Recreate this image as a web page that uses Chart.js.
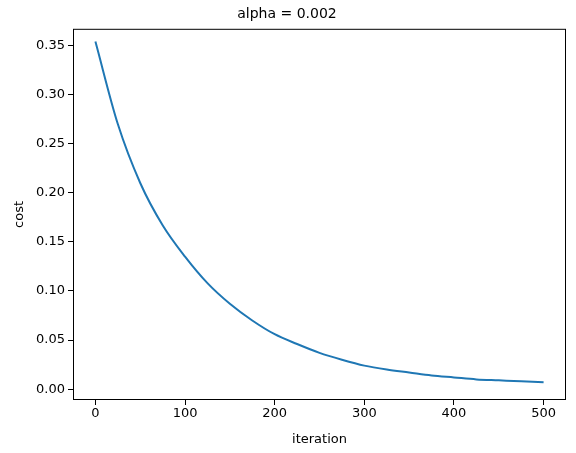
<!DOCTYPE html>
<html><head><meta charset="utf-8">
<script src="https://cdn.jsdelivr.net/npm/chart.js@4"></script>
<style>html,body{margin:0;background:#fff}#wrap{width:576px;height:453px}</style>
</head><body><div id="wrap"><canvas id="c"></canvas></div>
<script>
// cost every 25 iterations
const iterations = [0,25,50,75,100,125,150,175,200,225,250,275,300,325,350,375,400,425,450,475,500];
const cost = [0.354,0.270,0.210,0.167,0.135,0.108,0.087,0.070,0.056,0.046,0.037,0.030,0.024,0.020,0.017,0.014,0.012,0.010,0.009,0.008,0.007];
const xTicks = [0,100,200,300,400,500];
const yTicks = [0,0.05,0.10,0.15,0.20,0.25,0.30,0.35];

const FONT = "'DejaVu Sans',sans-serif";
Chart.defaults.font.family = FONT;
Chart.defaults.color = "#000";

const frame = {
    id:"frame",
    afterDraw(c){
        const a=c.chartArea, x=c.ctx;
        x.save(); x.strokeStyle="#000"; x.lineWidth=1;
        x.strokeRect(a.left+.5,a.top+.5,a.right-a.left-1,a.bottom-a.top-1);
        x.restore();
    }
};

new Chart(document.getElementById("c"),{
    type:"line",
    data:{datasets:[{data:iterations.map((v,i)=>({x:v,y:cost[i]})),
        borderColor:"#1f77b4",borderWidth:2,pointRadius:0,cubicInterpolationMode:"monotone",fill:false}]},
    options:{responsive:true,maintainAspectRatio:false,animation:false,
        layout:{padding:{left:8,right:10,top:0,bottom:0}},
        plugins:{legend:{display:false},tooltip:{enabled:false},
            title:{display:true,text:"alpha = 0.002",font:{size:14,weight:"normal"},color:"#000",padding:{top:6,bottom:6}}},
        scales:{
            x:{type:"linear",min:-25,max:525,
                afterBuildTicks:a=>{a.ticks=xTicks.map(v=>({value:v}));},
                afterFit:a=>{a.height=53;},
                grid:{drawOnChartArea:false,tickLength:5,color:"#000"},
                border:{display:false},
                ticks:{font:{size:13},padding:1,maxRotation:0},
                title:{display:true,text:"iteration",font:{size:13},padding:{top:0,bottom:6}}},
            y:{min:-0.011,max:0.367,
                afterBuildTicks:a=>{a.ticks=yTicks.map(v=>({value:v}));},
                afterFit:a=>{a.width=65;},
                grid:{drawOnChartArea:false,tickLength:5,color:"#000"},
                border:{display:false},
                ticks:{font:{size:13},padding:3,callback:v=>v.toFixed(2)},
                title:{display:true,text:"cost",font:{size:13},padding:{bottom:2}}}
        }},
    plugins:[frame]
});
</script></body></html>
